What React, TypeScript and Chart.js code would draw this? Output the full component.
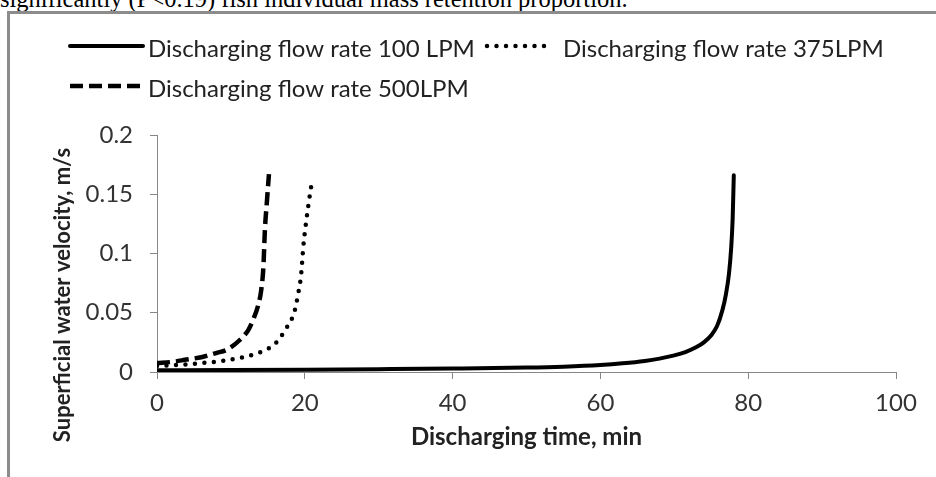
import React, { useEffect, useRef } from "react";
import { Chart, registerables } from "chart.js";

Chart.register(...registerables);

const caption = "significantly (P<0.19) fish individual mass retention proportion.";
const xTitle = "Discharging time, min";
const yTitle = "Superficial water velocity, m/s";
const seriesLabels = [
  "Discharging flow rate 100 LPM",
  "Discharging flow rate 375LPM",
  "Discharging flow rate 500LPM",
];

// Discharging flow rate 100 LPM (solid)
const t100 = [0, 10, 20, 30, 40, 50, 55, 60, 63, 66, 68, 70, 71.5, 73, 74, 75, 75.8, 76.5, 77, 77.4, 77.7, 77.9, 78.05];
const v100 = [0.0015, 0.0017, 0.002, 0.0024, 0.0029, 0.0037, 0.0045, 0.0059, 0.0073, 0.0093, 0.0113, 0.014, 0.0168, 0.021, 0.025, 0.031, 0.039, 0.052, 0.066, 0.083, 0.105, 0.13, 0.166];

// Discharging flow rate 375LPM (dotted)
const t375 = [0, 3, 6, 9, 12, 14, 15.1, 16.1, 17.5, 18.6, 19.1, 19.5, 19.8, 20.25, 20.7, 21.0];
const v375 = [0.005, 0.006, 0.0075, 0.0095, 0.013, 0.0168, 0.02, 0.0247, 0.037, 0.051, 0.066, 0.082, 0.106, 0.13, 0.15, 0.162];

// Discharging flow rate 500LPM (dashed)
const t500 = [0, 2, 4, 6, 8, 9.5, 11.2, 12.35, 13.0, 13.7, 14.1, 14.4, 14.6, 14.85, 15.15];
const v500 = [0.0075, 0.0085, 0.0105, 0.0125, 0.016, 0.0189, 0.027, 0.0354, 0.044, 0.0565, 0.069, 0.089, 0.12, 0.142, 0.167];

const xMin = 0, xMax = 100, xStep = 20;
const yMin = 0, yMax = 0.2, yStep = 0.05;

const FONT = "Lato";
const AXIS_GRAY = "#868686";
const TEXT = "#333333";

const toPoints = (xs: number[], ys: number[]) => xs.map((x, i) => ({ x, y: ys[i] }));

const legendPlugin = {
  id: "customLegend",
  afterDraw(chart: any) {
    const ctx = chart.ctx;
    const ds = chart.data.datasets;
    const items = [
      { d: ds[0], x0: 70, x1: 143, tx: 148, y: 46 },
      { d: ds[1], x0: 487, x1: 548, tx: 563, y: 46 },
      { d: ds[2], x0: 70, x1: 143, tx: 148, y: 86 },
    ];
    ctx.save();
    for (const it of items) {
      ctx.beginPath();
      ctx.strokeStyle = it.d.borderColor;
      ctx.lineWidth = it.d.borderWidth;
      ctx.lineCap = it.d.borderCapStyle || "butt";
      ctx.setLineDash(it.d.borderDash || []);
      ctx.moveTo(it.x0, it.y);
      ctx.lineTo(it.x1, it.y);
      ctx.stroke();
      ctx.setLineDash([]);
      ctx.fillStyle = "#222";
      ctx.font = `24px ${FONT}`;
      ctx.textAlign = "left";
      ctx.textBaseline = "middle";
      ctx.fillText(it.d.label, it.tx, it.y + 3);
    }
    ctx.restore();
  },
};

const titlesPlugin = {
  id: "axisTitles",
  afterDraw(chart: any) {
    const ctx = chart.ctx;
    const area = chart.chartArea;
    ctx.save();
    ctx.fillStyle = "#222";
    ctx.textAlign = "center";
    ctx.textBaseline = "middle";
    ctx.font = `bold 24px ${FONT}`;
    ctx.fillText(xTitle, (area.left + area.right) / 2, 437);
    ctx.translate(63, 295);
    ctx.rotate(-Math.PI / 2);
    ctx.font = `bold 22px ${FONT}`;
    ctx.fillText(yTitle, 0, 0);
    ctx.restore();
  },
};

export default function App() {
  const ref = useRef<HTMLCanvasElement | null>(null);

  useEffect(() => {
    if (!ref.current) return;
    const chart = new Chart(ref.current, {
      type: "scatter",
      data: {
        datasets: [
          {
            label: seriesLabels[0],
            data: toPoints(t100, v100),
            showLine: true,
            borderColor: "#000",
            borderWidth: 4,
            borderCapStyle: "round",
            pointRadius: 0,
            cubicInterpolationMode: "monotone",
          },
          {
            label: seriesLabels[1],
            data: toPoints(t375, v375),
            showLine: true,
            borderColor: "#000",
            borderWidth: 4.5,
            borderCapStyle: "round",
            borderDash: [0, 9.5],
            pointRadius: 0,
            cubicInterpolationMode: "monotone",
          },
          {
            label: seriesLabels[2],
            data: toPoints(t500, v500),
            showLine: true,
            borderColor: "#000",
            borderWidth: 4.5,
            borderCapStyle: "butt",
            borderDash: [13, 6],
            pointRadius: 0,
            cubicInterpolationMode: "monotone",
          },
        ],
      } as any,
      options: {
        animation: false,
        responsive: false,
        maintainAspectRatio: false,
        layout: { padding: { top: 135, right: 40, left: 0, bottom: 0 } },
        plugins: {
          legend: { display: false },
          tooltip: { enabled: false },
        },
        scales: {
          x: {
            type: "linear",
            min: xMin,
            max: xMax,
            afterFit(scale: any) {
              scale.height = 105;
            },
            ticks: {
              stepSize: xStep,
              color: TEXT,
              font: { family: FONT, size: 24 },
              padding: 10,
              maxRotation: 0,
            },
            grid: {
              display: true,
              drawOnChartArea: false,
              drawTicks: true,
              tickLength: 7,
              color: AXIS_GRAY,
            },
            border: { display: true, color: AXIS_GRAY, width: 1 },
          },
          y: {
            type: "linear",
            min: yMin,
            max: yMax,
            afterFit(scale: any) {
              scale.width = 157;
            },
            ticks: {
              stepSize: yStep,
              color: TEXT,
              font: { family: FONT, size: 24 },
              padding: 17,
              callback: (v: any) => String(Number(Number(v).toFixed(2))),
            },
            grid: {
              display: true,
              drawOnChartArea: false,
              drawTicks: true,
              tickLength: 7,
              color: AXIS_GRAY,
            },
            border: { display: true, color: AXIS_GRAY, width: 1 },
          },
        },
      } as any,
      plugins: [legendPlugin, titlesPlugin],
    });
    return () => chart.destroy();
  }, []);

  return (
    <div
      style={{
        position: "fixed",
        left: 0,
        top: 0,
        width: 936,
        height: 477,
        overflow: "hidden",
        background: "#fff",
      }}
    >
      <div
        style={{
          position: "absolute",
          left: 0,
          top: -13,
          font: '24.5px "Liberation Serif"',
          lineHeight: "24px",
          whiteSpace: "nowrap",
          color: "#000",
        }}
      >
        {caption}
      </div>
      <div
        style={{
          position: "absolute",
          left: 7,
          top: 11,
          width: 960,
          height: 500,
          borderLeft: "3px solid #8c8c8c",
          borderTop: "3px solid #8c8c8c",
          boxSizing: "border-box",
        }}
      />
      <canvas
        ref={ref}
        width={936}
        height={477}
        style={{ position: "absolute", left: 0, top: 0, width: 936, height: 477 }}
      />
    </div>
  );
}
